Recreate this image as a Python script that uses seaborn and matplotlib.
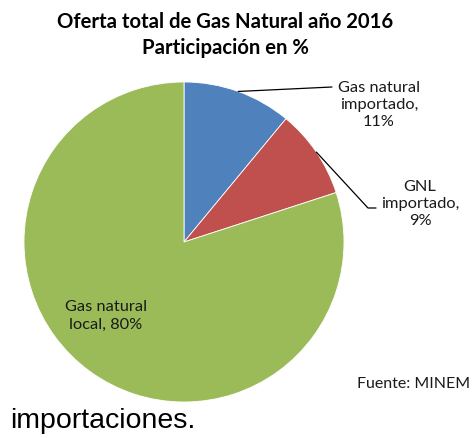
import matplotlib

matplotlib.use("Agg")
import matplotlib.pyplot as plt  # noqa: E402
import numpy as np  # noqa: E402
import seaborn as sns  # noqa: E402

labels = ["Gas natural\nimportado,\n11%", "GNL\nimportado,\n9%", "Gas natural\nlocal, 80%"]
shares = [11, 9, 80]
colors = ["#4F81BD", "#C0504D", "#9BBB59"]
title = "Oferta total de Gas Natural año 2016\nParticipación en %"
source = "Fuente: MINEM"
caption = "importaciones."

sns.set_theme(style="white")
plt.rcParams["font.family"] = ["Lato", "DejaVu Sans"]

W, H = 472, 438
fig = plt.figure(figsize=(W / 100, H / 100), dpi=100)
ax = fig.add_axes([0, 0, 1, 1])

cx, cy, r = 184, H - 242, 160
wedges, _ = ax.pie(
    shares,
    colors=colors,
    startangle=90,
    counterclock=False,
    center=(cx, cy),
    radius=r,
    frame=True,
    wedgeprops=dict(edgecolor="white", linewidth=0.6),
)
ax.set_xlim(0, W)
ax.set_ylim(0, H)
ax.axis("off")


def edge_point(w):
    ang = np.deg2rad((w.theta1 + w.theta2) / 2)
    return cx + r * np.cos(ang), cy + r * np.sin(ang)


txt = dict(fontsize=11.8, color="#1a1a1a", ha="center", va="center", linespacing=1.3)

# imported natural gas
x0, y0 = edge_point(wedges[0])
ax.plot([x0, 332], [y0, H - 87], color="black", lw=0.9)
ax.text(379, H - 105, labels[0], **txt)

# imported LNG
x1, y1 = edge_point(wedges[1])
ax.plot([x1, 368, 376], [y1, H - 208, H - 208], color="black", lw=0.9)
ax.text(420, H - 204, labels[1], **txt)

# local natural gas
ax.text(106, H - 316, labels[2], **txt)

ax.text(225, H - 35, title, fontsize=14.6, fontweight="bold", ha="center",
        va="center", color="black", linespacing=1.35)
ax.text(470, H - 384, source, fontsize=11.5, ha="right", va="center", color="#1a1a1a")
ax.text(10, H - 421, caption, fontsize=20.5, ha="left", va="center", color="black",
        family=["Liberation Sans", "DejaVu Sans"])

fig.savefig("out.png", dpi=100)
plt.close(fig)
